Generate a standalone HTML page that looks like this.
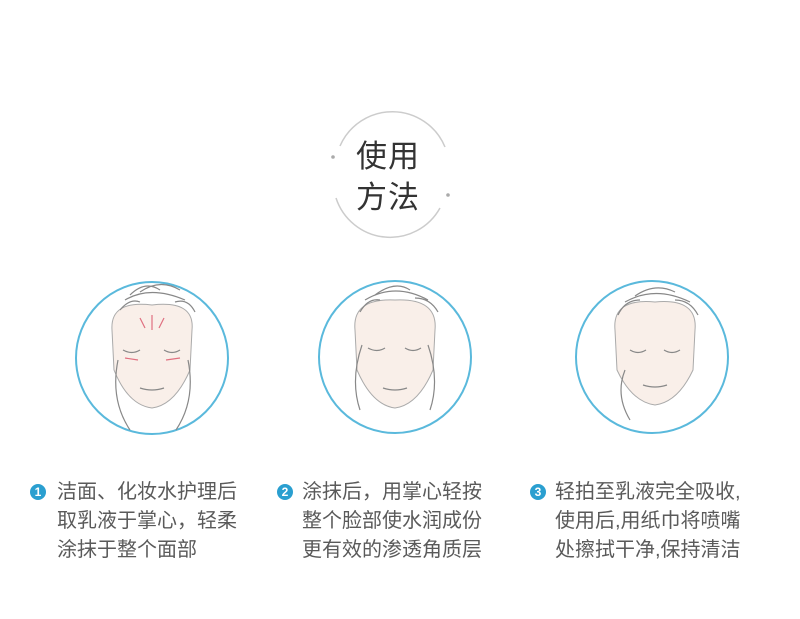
<!DOCTYPE html>
<html><head><meta charset="utf-8"><style>
body{margin:0;width:800px;height:619px;background:#fff;position:relative;overflow:hidden;font-family:"Liberation Sans","Noto Sans CJK SC",sans-serif}
.t{position:absolute;font-size:20px;line-height:29px;color:#5a5a5a;white-space:nowrap}
.n{position:absolute;width:16px;height:16px;border-radius:50%;background:#2a9fd0;color:#fff;font-size:12px;line-height:16px;text-align:center;font-weight:bold}
.title{position:absolute;left:356px;top:136px;font-size:31px;line-height:41px;color:#333;letter-spacing:1px}
</style></head><body>
<svg width="800" height="619" style="position:absolute;left:0;top:0">
<g fill="none" stroke="#ccc" stroke-width="1.5">
<path d="M340 146 A57 57 0 0 1 445 147"/>
<path d="M440 208 A57 57 0 0 1 336 198"/>
</g>
<circle cx="333" cy="157" r="1.8" fill="#aaa"/><circle cx="448" cy="195" r="1.8" fill="#aaa"/>
<g stroke="#5ab9dc" stroke-width="2" fill="#fff">
<circle cx="152" cy="358" r="76"/><circle cx="395" cy="357" r="76"/><circle cx="652" cy="357" r="76"/>
</g>
<g fill="#f9efe9" stroke="#aaa" stroke-width="1">
<path d="M112 330 Q110 300 152 305 Q195 300 192 330 L190 370 Q175 405 152 408 Q128 405 114 370 Z"/>
<path d="M355 330 Q352 298 395 300 Q438 298 435 330 L433 370 Q418 405 395 408 Q372 405 357 370 Z"/>
<path d="M615 330 Q612 298 655 302 Q698 298 695 330 L693 370 Q678 402 655 405 Q632 402 617 370 Z"/>
</g>
<g fill="none" stroke="#888" stroke-width="1.2">
<path d="M125 300 Q150 285 185 300 M130 295 Q145 280 160 290 M140 292 Q160 278 180 290 M120 310 Q130 298 140 302 M175 302 Q188 298 195 312"/>
<path d="M365 300 Q395 282 428 300 M375 295 Q395 280 410 290 M360 312 Q368 298 380 300 M415 298 Q430 298 438 312"/>
<path d="M625 302 Q655 285 690 302 M635 296 Q655 282 675 292 M618 315 Q625 300 640 300 M675 300 Q690 300 698 315"/>
<path d="M123 350 Q132 355 140 350 M164 350 Q172 355 180 350"/>
<path d="M368 348 Q377 353 385 348 M405 348 Q413 353 421 348"/>
<path d="M630 350 Q638 355 646 350 M664 350 Q672 355 680 350"/>
<path d="M140 388 Q152 392 164 388 M383 388 Q395 392 407 388 M643 385 Q655 389 667 385"/>
<path d="M118 360 Q110 400 130 430 M188 360 Q196 400 176 430"/>
<path d="M362 345 Q350 380 360 410 M428 345 Q440 380 430 410"/>
<path d="M625 370 Q615 395 630 420"/>
</g>
<g fill="none" stroke="#e07080" stroke-width="1.2">
<path d="M125 358 L138 360 M166 360 L180 358 M152 315 L152 330 M140 318 L145 328 M164 318 L159 328"/>
</g>
</svg>
<div class="title">使用<br>方法</div>
<div class="n" style="left:30px;top:484px">1</div>
<div class="t" style="left:57px;top:478px">洁面、化妆水护理后<br>取乳液于掌心，轻柔<br>涂抹于整个面部</div>
<div class="n" style="left:277px;top:484px">2</div>
<div class="t" style="left:302px;top:478px">涂抹后，用掌心轻按<br>整个脸部使水润成份<br>更有效的渗透角质层</div>
<div class="n" style="left:530px;top:484px">3</div>
<div class="t" style="left:555px;top:478px">轻拍至乳液完全吸收,<br>使用后,用纸巾将喷嘴<br>处擦拭干净,保持清洁</div>
</body></html>
